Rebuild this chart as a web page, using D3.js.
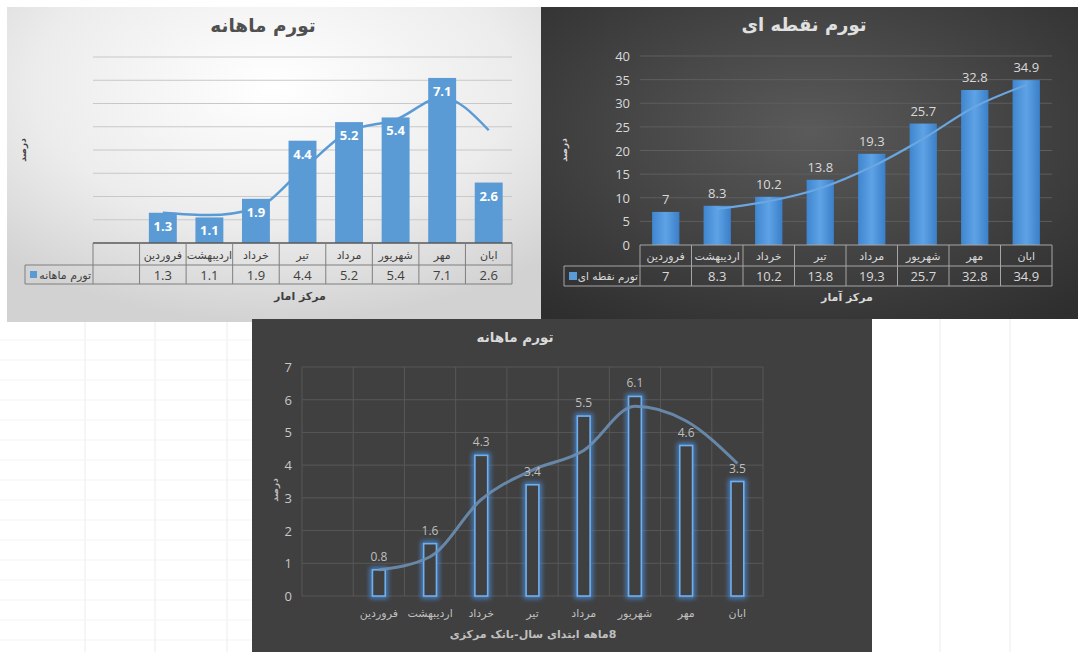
<!DOCTYPE html>
<html><head><meta charset="utf-8">
<script src="https://cdn.jsdelivr.net/npm/d3@7/dist/d3.min.js"></script>
<style>
html,body{margin:0;padding:0;background:#fff;}
svg{display:block;font-family:"Open Sans","DejaVu Sans",sans-serif;}
</style></head>
<body>
<svg id="c" width="1078" height="652"></svg>
<script>
// ---------- DATA ----------
const monthlyCats = ["", "فروردین", "اردیبهشت", "خرداد", "تیر", "مرداد", "شهریور", "مهر", "ابان"];
const monthlyValues = [null, 1.3, 1.1, 1.9, 4.4, 5.2, 5.4, 7.1, 2.6];
const monthlyTrend = [null, 1.3, 1.2, 1.5, 3.15, 4.8, 5.3, 6.25, 4.85];
const monthlyGrid = [0, 1, 2, 3, 4, 5, 6, 7, 8];

const pointCats = ["فروردین", "اردیبهشت", "خرداد", "تیر", "مرداد", "شهریور", "مهر", "ابان"];
const pointValues = [7, 8.3, 10.2, 13.8, 19.3, 25.7, 32.8, 34.9];
const pointTrend = [null, 7.65, 9.25, 12, 16.55, 22.5, 29.25, 33.85];
const pointTicks = [0, 5, 10, 15, 20, 25, 30, 35, 40];

const cbCats = ["", "فروردین", "اردیبهشت", "خرداد", "تیر", "مرداد", "شهریور", "مهر", "ابان"];
const cbValues = [null, 0.8, 1.6, 4.3, 3.4, 5.5, 6.1, 4.6, 3.5];
const cbTrend = [null, 0.8, 1.2, 2.95, 3.85, 4.45, 5.8, 5.35, 4.05];
const cbTicks = [0, 1, 2, 3, 4, 5, 6, 7];

const titles = {monthly: "تورم ماهانه", point: "تورم نقطه ای", cb: "تورم ماهانه"};
const seriesNames = {monthly: "تورم ماهانه", point: "تورم نقطه ای"};
const xTitles = {monthly: "مرکز امار", point: "مرکز آمار", cb: "8ماهه ابتدای سال-بانک مرکزی"};
const yTitle = "درصد";

// ---------- SETUP ----------
const svg = d3.select("#c");
const defs = svg.append("defs");

const gl = defs.append("radialGradient").attr("id","gLight").attr("cx","50%").attr("cy","25%").attr("r","75%");
gl.append("stop").attr("offset","0%").attr("stop-color","#ffffff");
gl.append("stop").attr("offset","60%").attr("stop-color","#ececec");
gl.append("stop").attr("offset","100%").attr("stop-color","#d2d2d2");

const gd = defs.append("radialGradient").attr("id","gDark").attr("cx","50%").attr("cy","40%").attr("r","75%");
gd.append("stop").attr("offset","0%").attr("stop-color","#5a5a5a");
gd.append("stop").attr("offset","100%").attr("stop-color","#2e2e2e");

const gb = defs.append("linearGradient").attr("id","gBar").attr("x1","0").attr("x2","1").attr("y1","0").attr("y2","0");
gb.append("stop").attr("offset","0%").attr("stop-color","#3f86cf");
gb.append("stop").attr("offset","50%").attr("stop-color","#5fa3e6");
gb.append("stop").attr("offset","100%").attr("stop-color","#3a7fc8");

const glow = defs.append("filter").attr("id","glow").attr("x","-50%").attr("y","-20%").attr("width","200%").attr("height","140%");
glow.append("feGaussianBlur").attr("stdDeviation",2.5);

// spreadsheet background bits
const bg = svg.append("g");
bg.append("rect").attr("x",0).attr("y",0).attr("width",1078).attr("height",652).attr("fill","#ffffff");
[85,155,227].forEach(x=>bg.append("line").attr("x1",x).attr("x2",x).attr("y1",318).attr("y2",652).attr("stroke","#ececec"));
[340,360,380,400,420,440,460,480,500,520,540,560,580,600,620,640].forEach(y=>bg.append("line").attr("x1",0).attr("x2",252).attr("y1",y).attr("y2",y).attr("stroke","#f3f3f3"));
[940,1010].forEach(x=>bg.append("line").attr("x1",x).attr("x2",x).attr("y1",318).attr("y2",652).attr("stroke","#ececec"));

// ---------- CHART 1 : top-left ----------
(function(){
  const g = svg.append("g");
  g.append("rect").attr("x",7).attr("y",7).attr("width",534).attr("height",315).attr("fill","url(#gLight)");
  g.append("text").attr("x",263).attr("y",32).attr("text-anchor","middle")
    .attr("font-family","DejaVu Sans").attr("font-weight","bold").attr("font-size",18.5).attr("fill","#505050").text(titles.monthly);

  const x = d3.scaleBand().domain(monthlyCats.map((d,i)=>i)).range([93,512]).padding(0);
  const y = d3.scaleLinear().domain([0,8]).range([243,57]);

  g.selectAll(".gr").data(monthlyGrid.slice(1)).join("line")
    .attr("x1",93).attr("x2",512).attr("y1",d=>y(d)).attr("y2",d=>y(d))
    .attr("stroke","#c8c8c8").attr("stroke-width",1);

  const bw = x.bandwidth()*0.6;
  const bars = monthlyValues.map((v,i)=>({v,i})).filter(d=>d.v!=null);
  g.selectAll(".b").data(bars).join("rect")
    .attr("x",d=>x(d.i)+(x.bandwidth()-bw)/2).attr("width",bw)
    .attr("y",d=>y(d.v)).attr("height",d=>y(0)-y(d.v)).attr("fill","#5b9bd5");

  const line = d3.line().defined(d=>d.v!=null).x(d=>x(d.i)+x.bandwidth()/2).y(d=>y(d.v)).curve(d3.curveMonotoneX);
  g.append("path").datum(monthlyTrend.map((v,i)=>({v,i}))).attr("d",line)
    .attr("fill","none").attr("stroke","#5b9bd5").attr("stroke-width",2.5);

  g.selectAll(".lb").data(bars).join("text")
    .attr("x",d=>x(d.i)+x.bandwidth()/2).attr("y",d=>y(d.v)+18).attr("text-anchor","middle")
    .attr("font-size",13).attr("font-weight","bold").attr("fill","#ffffff").text(d=>d.v);

  // data table
  const rowTop = 243, rowMid = 265, rowBot = 284;
  const tc = "#7f7f7f";
  g.append("line").attr("x1",93).attr("x2",512).attr("y1",rowTop).attr("y2",rowTop).attr("stroke","#595959").attr("stroke-width",1.5);
  g.append("line").attr("x1",25).attr("x2",512).attr("y1",rowMid).attr("y2",rowMid).attr("stroke",tc);
  g.append("line").attr("x1",25).attr("x2",512).attr("y1",rowBot).attr("y2",rowBot).attr("stroke",tc);
  g.append("line").attr("x1",25).attr("x2",25).attr("y1",rowMid).attr("y2",rowBot).attr("stroke",tc);
  const edges = monthlyCats.map((d,i)=>x(i)).concat([512]);
  g.selectAll(".vl").data(edges).join("line").attr("x1",d=>d).attr("x2",d=>d).attr("y1",rowTop).attr("y2",rowBot).attr("stroke",tc);
  g.selectAll(".ct").data(monthlyCats).join("text")
    .attr("x",(d,i)=>x(i)+x.bandwidth()/2).attr("y",rowTop+16).attr("text-anchor","middle")
    .attr("font-family","DejaVu Sans").attr("font-size",11).attr("fill","#404040").text(d=>d);
  g.selectAll(".vt").data(monthlyValues).join("text")
    .attr("x",(d,i)=>x(i)+x.bandwidth()/2).attr("y",rowMid+14.5).attr("text-anchor","middle")
    .attr("font-size",13).attr("fill","#404040").text(d=>d==null?"":d);
  g.append("rect").attr("x",30).attr("y",rowMid+6).attr("width",7).attr("height",7).attr("fill","#5b9bd5");
  g.append("text").attr("x",91).attr("y",rowMid+14).attr("text-anchor","end")
    .attr("font-family","DejaVu Sans").attr("font-size",11).attr("fill","#404040").text(seriesNames.monthly);

  g.append("text").attr("x",300).attr("y",300).attr("text-anchor","middle")
    .attr("font-family","DejaVu Sans").attr("font-weight","bold").attr("font-size",11).attr("fill","#404040").text(xTitles.monthly);
  g.append("text").attr("transform","translate(26,150) rotate(-90)").attr("text-anchor","middle")
    .attr("font-family","DejaVu Sans").attr("font-weight","bold").attr("font-size",9).attr("fill","#404040").text(yTitle);
})();

// ---------- CHART 2 : top-right ----------
(function(){
  const g = svg.append("g");
  g.append("rect").attr("x",541).attr("y",7).attr("width",537).attr("height",312).attr("fill","url(#gDark)");
  g.append("text").attr("x",804).attr("y",31).attr("text-anchor","middle")
    .attr("font-family","DejaVu Sans").attr("font-weight","bold").attr("font-size",18).attr("fill","#e0e0e0").text(titles.point);

  const x = d3.scaleBand().domain(pointCats.map((d,i)=>i)).range([640,1052]).padding(0);
  const y = d3.scaleLinear().domain([0,40]).range([245,56]);

  g.selectAll(".gr").data(pointTicks.slice(1)).join("line")
    .attr("x1",640).attr("x2",1052).attr("y1",d=>y(d)).attr("y2",d=>y(d))
    .attr("stroke","#5e5e5e").attr("stroke-width",1);
  g.selectAll(".yt").data(pointTicks).join("text")
    .attr("x",630).attr("y",d=>y(d)+5).attr("text-anchor","end")
    .attr("font-size",13).attr("fill","#d9d9d9").text(d=>d);

  const bw = x.bandwidth()*0.53;
  const bars = pointValues.map((v,i)=>({v,i}));
  g.selectAll(".b").data(bars).join("rect")
    .attr("x",d=>x(d.i)+(x.bandwidth()-bw)/2).attr("width",bw)
    .attr("y",d=>y(d.v)).attr("height",d=>y(0)-y(d.v)).attr("fill","url(#gBar)");

  const line = d3.line().defined(d=>d.v!=null).x(d=>x(d.i)+x.bandwidth()/2).y(d=>y(d.v)).curve(d3.curveMonotoneX);
  g.append("path").datum(pointTrend.map((v,i)=>({v,i}))).attr("d",line)
    .attr("fill","none").attr("stroke","#6aa6e0").attr("stroke-width",2.2);

  g.selectAll(".lb").data(bars).join("text")
    .attr("x",d=>x(d.i)+x.bandwidth()/2).attr("y",d=>y(d.v)-8).attr("text-anchor","middle")
    .attr("font-size",13).attr("fill","#d9d9d9").text(d=>d.v);

  const rowTop = 245, rowMid = 266, rowBot = 286;
  const tc = "#a6a6a6";
  g.append("line").attr("x1",640).attr("x2",1052).attr("y1",rowTop).attr("y2",rowTop).attr("stroke",tc);
  g.append("line").attr("x1",564).attr("x2",1052).attr("y1",rowMid).attr("y2",rowMid).attr("stroke",tc);
  g.append("line").attr("x1",564).attr("x2",1052).attr("y1",rowBot).attr("y2",rowBot).attr("stroke",tc);
  g.append("line").attr("x1",564).attr("x2",564).attr("y1",rowMid).attr("y2",rowBot).attr("stroke",tc);
  const edges = pointCats.map((d,i)=>x(i)).concat([1052]);
  g.selectAll(".vl").data(edges).join("line").attr("x1",d=>d).attr("x2",d=>d).attr("y1",rowTop).attr("y2",rowBot).attr("stroke",tc);
  g.selectAll(".ct").data(pointCats).join("text")
    .attr("x",(d,i)=>x(i)+x.bandwidth()/2).attr("y",rowTop+15).attr("text-anchor","middle")
    .attr("font-family","DejaVu Sans").attr("font-size",11).attr("fill","#d9d9d9").text(d=>d);
  g.selectAll(".vt").data(pointValues).join("text")
    .attr("x",(d,i)=>x(i)+x.bandwidth()/2).attr("y",rowMid+15).attr("text-anchor","middle")
    .attr("font-size",13).attr("fill","#d9d9d9").text(d=>d);
  g.append("rect").attr("x",569).attr("y",rowMid+6).attr("width",8).attr("height",8).attr("fill","#5b9bd5");
  g.append("text").attr("x",638).attr("y",rowMid+14).attr("text-anchor","end")
    .attr("font-family","DejaVu Sans").attr("font-size",10.5).attr("fill","#d9d9d9").text(seriesNames.point);

  g.append("text").attr("x",847).attr("y",301).attr("text-anchor","middle")
    .attr("font-family","DejaVu Sans").attr("font-weight","bold").attr("font-size",11).attr("fill","#d9d9d9").text(xTitles.point);
  g.append("text").attr("transform","translate(567,150) rotate(-90)").attr("text-anchor","middle")
    .attr("font-family","DejaVu Sans").attr("font-weight","bold").attr("font-size",9).attr("fill","#d9d9d9").text(yTitle);
})();

// ---------- CHART 3 : bottom ----------
(function(){
  const g = svg.append("g");
  g.append("rect").attr("x",252).attr("y",319).attr("width",620).attr("height",333).attr("fill","#404040");
  g.append("text").attr("x",515).attr("y",342).attr("text-anchor","middle")
    .attr("font-family","DejaVu Sans").attr("font-weight","bold").attr("font-size",13.5).attr("fill","#d9d9d9").text(titles.cb);

  const x = d3.scaleBand().domain(cbCats.map((d,i)=>i)).range([302,763]).padding(0);
  const y = d3.scaleLinear().domain([0,7]).range([596,367]);

  g.selectAll(".gr").data(cbTicks).join("line")
    .attr("x1",302).attr("x2",763).attr("y1",d=>y(d)).attr("y2",d=>y(d))
    .attr("stroke","#575757").attr("stroke-width",1);
  const edges = cbCats.map((d,i)=>x(i)).concat([763]);
  g.selectAll(".vg").data(edges).join("line")
    .attr("x1",d=>d).attr("x2",d=>d).attr("y1",y(7)).attr("y2",y(0))
    .attr("stroke","#575757").attr("stroke-width",1);
  g.selectAll(".yt").data(cbTicks).join("text")
    .attr("x",292).attr("y",d=>y(d)+5).attr("text-anchor","end")
    .attr("font-size",13).attr("fill","#c8c8c8").text(d=>d);

  const bw = x.bandwidth()*0.25;
  const bars = cbValues.map((v,i)=>({v,i})).filter(d=>d.v!=null);
  g.selectAll(".bg").data(bars).join("rect")
    .attr("x",d=>x(d.i)+(x.bandwidth()-bw)/2).attr("width",bw)
    .attr("y",d=>y(d.v)).attr("height",d=>y(0)-y(d.v))
    .attr("fill","none").attr("stroke","#4a90e2").attr("stroke-width",5).attr("opacity",0.85).attr("filter","url(#glow)");
  g.selectAll(".b").data(bars).join("rect")
    .attr("x",d=>x(d.i)+(x.bandwidth()-bw)/2).attr("width",bw)
    .attr("y",d=>y(d.v)).attr("height",d=>y(0)-y(d.v))
    .attr("fill","#404040").attr("stroke","#6fb0f0").attr("stroke-width",1.6);

  const line = d3.line().defined(d=>d.v!=null).x(d=>x(d.i)+x.bandwidth()/2).y(d=>y(d.v)).curve(d3.curveMonotoneX);
  g.append("path").datum(cbTrend.map((v,i)=>({v,i}))).attr("d",line)
    .attr("fill","none").attr("stroke","#6c8fb4").attr("stroke-width",3).attr("opacity",0.9);

  g.selectAll(".lb").data(bars).join("text")
    .attr("x",d=>x(d.i)+x.bandwidth()/2).attr("y",d=>y(d.v)-9).attr("text-anchor","middle")
    .attr("font-size",12).attr("fill","#bfbfbf").text(d=>d.v);

  g.selectAll(".ct").data(cbCats).join("text")
    .attr("x",(d,i)=>x(i)+x.bandwidth()/2).attr("y",617).attr("text-anchor","middle")
    .attr("font-family","DejaVu Sans").attr("font-size",11).attr("fill","#bfbfbf").text(d=>d);

  g.append("text").attr("x",533).attr("y",638).attr("text-anchor","middle").attr("direction","rtl")
    .style("direction","rtl").style("unicode-bidi","embed")
    .attr("font-family","DejaVu Sans").attr("font-weight","bold").attr("font-size",11).attr("fill","#bfbfbf").text(xTitles.cb);
  g.append("text").attr("transform","translate(278,490) rotate(-90)").attr("text-anchor","middle")
    .attr("font-family","DejaVu Sans").attr("font-weight","bold").attr("font-size",9).attr("fill","#bfbfbf").text(yTitle);
})();
</script>
</body></html>
